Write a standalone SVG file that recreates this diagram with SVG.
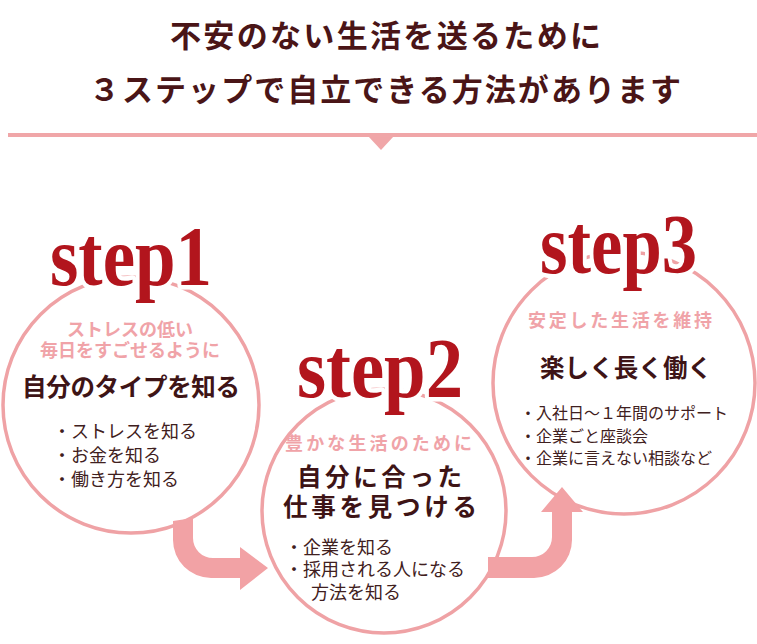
<svg xmlns="http://www.w3.org/2000/svg" width="757" height="644" viewBox="0 0 757 644">
<style>
.jp{font-family:"Noto Sans CJK JP","Noto Sans CJK SC",sans-serif}
.title{font-size:31px;font-weight:700;fill:#4A1517}
.sub{font-size:18px;font-weight:700;fill:#F0A3A8}
.main{font-size:24.5px;font-weight:700;fill:#3E1416}
.item{font-size:18px;font-weight:400;fill:#3F2020}
.item3{font-size:16px;font-weight:400;fill:#3F2020}
.ring{fill:none;stroke:#EFA2A5;stroke-width:3.5}
.step{font-family:"Liberation Serif","DejaVu Serif",serif;font-size:84px;font-weight:700;fill:#B2151D;stroke:#fff;stroke-width:9;stroke-linejoin:round;paint-order:stroke}
.arrow{fill:#F2A2A5}
</style>
<rect width="757" height="644" fill="#fff"/>
<g id="title">
<text class="jp title" x="170" y="47" textLength="431" lengthAdjust="spacing">不安のない生活を送るために</text>
<text class="jp title" x="89" y="100.5" textLength="592" lengthAdjust="spacing">３ステップで自立できる方法があります</text>
<rect x="8" y="133" width="749" height="4" fill="#F0A6A8"/>
<polygon points="368,136 394,136 381,150" fill="#F0A6A8"/>
</g>
<g id="step1-circle"><circle class="ring" cx="131" cy="405" r="128"/></g>
<g id="step2-circle"><circle class="ring" cx="384" cy="511" r="122"/></g>
<g id="step3-circle"><circle class="ring" cx="624" cy="383" r="131"/></g>
<g id="connectors">
<path class="arrow" d="M173,521 L173,540 A38,38 0 0 0 211,578 L240,578 L240,590 L268,568 L240,547 L240,558 L213,558 A20,20 0 0 1 193,538 L193,518 Z"/>
<path class="arrow" d="M488,557 L532,557 A20,20 0 0 0 552,537 L552,512 L541,512 L562,487 L583,512 L572,512 L572,540 A38,38 0 0 1 534,578 L488,578 Z"/>
</g>
<g id="step1">
<text class="step" x="50" y="285" textLength="162" lengthAdjust="spacingAndGlyphs">step1</text>
<text class="jp sub" x="130" y="335.5" text-anchor="middle">ストレスの低い</text>
<text class="jp sub" x="130" y="357" text-anchor="middle">毎日をすごせるように</text>
<text class="jp main" x="22" y="396" textLength="218" lengthAdjust="spacing">自分のタイプを知る</text>
<text class="jp item" x="53" y="438">・ストレスを知る</text>
<text class="jp item" x="53" y="462">・お金を知る</text>
<text class="jp item" x="53" y="486">・働き方を知る</text>
</g>
<g id="step2">
<text class="step" x="297" y="397" textLength="166" lengthAdjust="spacingAndGlyphs">step2</text>
<text class="jp sub" x="285" y="450" textLength="187" lengthAdjust="spacing">豊かな生活のために</text>
<text class="jp main" x="297" y="486" textLength="165" lengthAdjust="spacing">自分に合った</text>
<text class="jp main" x="283" y="516" textLength="194" lengthAdjust="spacing">仕事を見つける</text>
<text class="jp item" x="285" y="554">・企業を知る</text>
<text class="jp item" x="285" y="576">・採用される人になる</text>
<text class="jp item" x="311" y="599">方法を知る</text>
</g>
<g id="step3">
<text class="step" x="540" y="273" textLength="157" lengthAdjust="spacingAndGlyphs">step3</text>
<text class="jp sub" x="528" y="327" textLength="184" lengthAdjust="spacing">安定した生活を維持</text>
<text class="jp main" x="540" y="377" textLength="172" lengthAdjust="spacing">楽しく長く働く</text>
<text class="jp item3" x="520" y="419">・入社日～１年間のサポート</text>
<text class="jp item3" x="520" y="442">・企業ごと座談会</text>
<text class="jp item3" x="520" y="464">・企業に言えない相談など</text>
</g>
</svg>
